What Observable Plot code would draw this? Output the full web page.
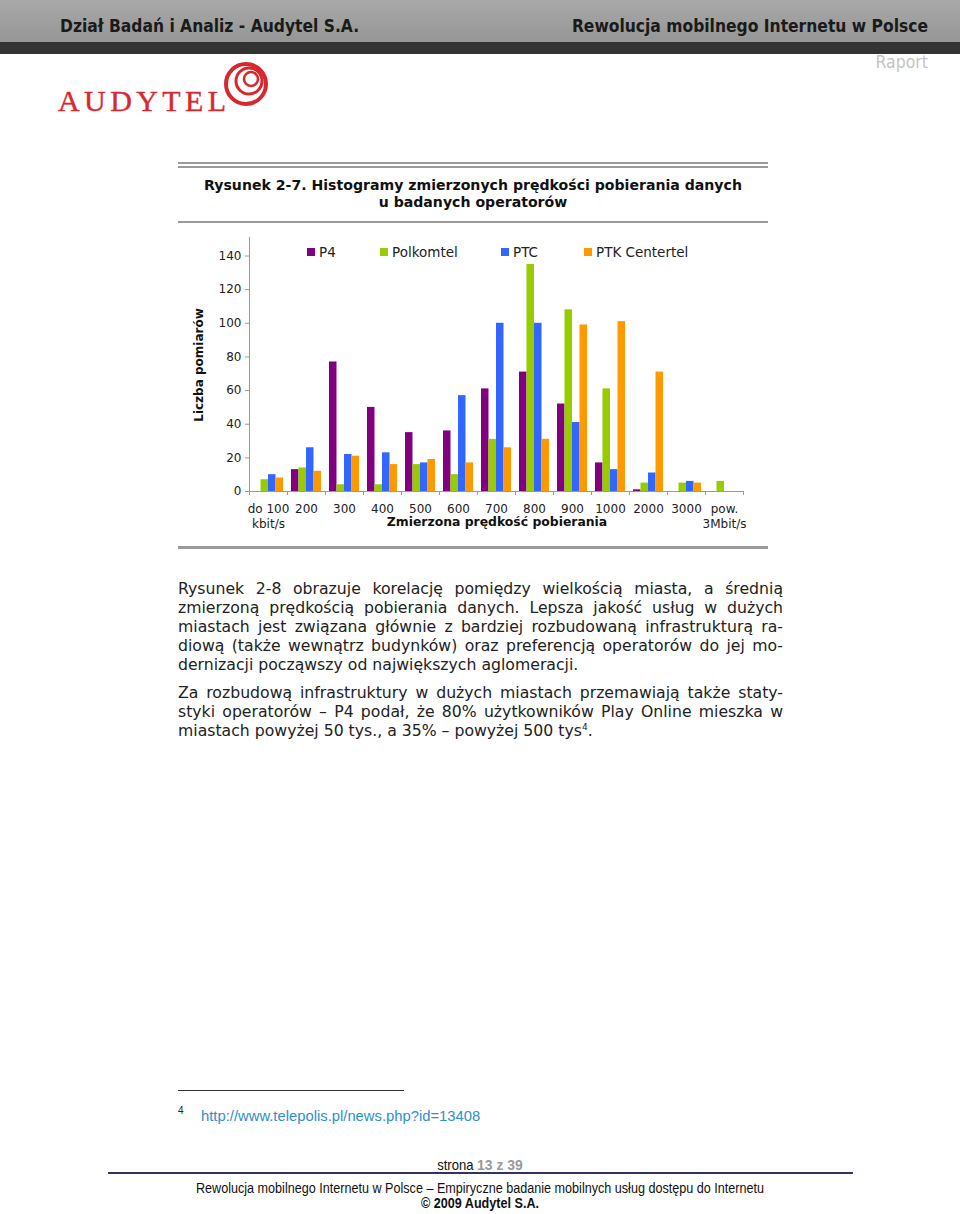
<!DOCTYPE html>
<html>
<head>
<meta charset="utf-8">
<script src="https://cdn.jsdelivr.net/npm/d3@7"></script>
<script src="https://cdn.jsdelivr.net/npm/@observablehq/plot@0.6"></script>
<style>
  html, body { margin: 0; padding: 0; background: #fff; }
  #page { position: relative; width: 960px; height: 1214px; overflow: hidden; font-family: "DejaVu Sans", Verdana, sans-serif; color: #222; }
  .abs { position: absolute; }
  #hdr1 { left: 0; top: 0; width: 960px; height: 42px; background: linear-gradient(#a8a8a8, #969696); }
  #hdr2 { left: 0; top: 42px; width: 960px; height: 12px; background: #333; }
  .hdrtxt { font-family: "DejaVu Sans Condensed", "DejaVu Sans", sans-serif; font-weight: bold; font-size: 17.3px; color: #1a1a1a; top: 16px; white-space: nowrap; }
  .rule { position: absolute; background: #9a9a9a; }
  .bodyline { position: absolute; left: 178px; width: 605px; font-size: 15.7px; line-height: 19px; color: #222; white-space: nowrap; }
  .just { text-align: justify; text-align-last: justify; }
  .leg { position: absolute; top: 244px; font-size: 13.5px; white-space: nowrap; color: #222; }
  .leg i { display: inline-block; width: 8px; height: 8px; margin-right: 4px; vertical-align: 1px; }
  .foot { font-family: "Liberation Sans", Arial, sans-serif; white-space: nowrap; }
  .narrow { position: absolute; left: 0; width: 960px; text-align: center; font-size: 14px; color: #111; transform: scaleX(0.9); transform-origin: 480px 0; }
</style>
</head>
<body>
<div id="page">
  <div id="hdr1" class="abs"></div>
  <div id="hdr2" class="abs"></div>
  <div class="abs hdrtxt" style="left:60px;">Dział Badań i Analiz - Audytel S.A.</div>
  <div class="abs hdrtxt" style="right:32px;">Rewolucja mobilnego Internetu w Polsce</div>
  <div class="abs hdrtxt" style="right:32px; top:52px; color:#c4c4c4; font-weight:normal; font-size:17.5px;">Raport</div>

  <svg class="abs" style="left:50px; top:56px;" width="240" height="64" viewBox="0 0 240 64">
    <text x="8" y="55" font-family="Liberation Serif, DejaVu Serif, serif" font-size="30" letter-spacing="4.4" fill="#d7282f" stroke="#d7282f" stroke-width="0.4">AUDYTEL</text>
    <circle cx="196" cy="28" r="20" fill="none" stroke="#d7282f" stroke-width="4"/>
    <circle cx="199" cy="25" r="13" fill="none" stroke="#d7282f" stroke-width="3"/>
    <circle cx="201" cy="23" r="7" fill="none" stroke="#d7282f" stroke-width="2.5"/>
  </svg>

  <div class="rule" style="left:178px; top:162px; width:590px; height:2px;"></div>
  <div class="rule" style="left:178px; top:166px; width:590px; height:1.5px;"></div>
  <div class="abs" style="left:178px; width:590px; top:177px; text-align:center; font-weight:bold; font-size:14.1px; line-height:17px; color:#111;">Rysunek 2-7. Histogramy zmierzonych prędkości pobierania danych<br>u badanych operatorów</div>
  <div class="rule" style="left:178px; top:221px; width:590px; height:2px;"></div>

  <div id="chart" class="abs" style="left:170px; top:230px;"></div>
  <div id="legend"></div>
  <div class="abs" style="left:199px; top:365px; width:0; height:0;">
    <div style="position:absolute; transform: translate(-50%,-50%) rotate(-90deg); font-weight:bold; font-size:12px; white-space:nowrap; color:#111;">Liczba pomiarów</div>
  </div>
  <div class="abs" style="left:297px; width:400px; top:514px; text-align:center; font-weight:bold; font-size:12.4px; color:#111; white-space:nowrap;">Zmierzona prędkość pobierania</div>

  <div class="rule" style="left:178px; top:546px; width:590px; height:2.5px;"></div>

  <div class="bodyline just" style="top:579px;">Rysunek 2-8 obrazuje korelację pomiędzy wielkością miasta, a średnią</div>
  <div class="bodyline just" style="top:598px;">zmierzoną prędkością pobierania danych. Lepsza jakość usług w dużych</div>
  <div class="bodyline just" style="top:617px;">miastach jest związana głównie z bardziej rozbudowaną infrastrukturą ra-</div>
  <div class="bodyline just" style="top:636px;">diową (także wewnątrz budynków) oraz preferencją operatorów do jej mo-</div>
  <div class="bodyline" style="top:655px;">dernizacji począwszy od największych aglomeracji.</div>
  <div class="bodyline just" style="top:683px;">Za rozbudową infrastruktury w dużych miastach przemawiają także staty-</div>
  <div class="bodyline just" style="top:702px;">styki operatorów – P4 podał, że 80% użytkowników Play Online mieszka w</div>
  <div class="bodyline" style="top:721px;">miastach powyżej 50 tys., a 35% – powyżej 500 tys<sup style="font-size:9px; vertical-align: 6px; line-height:0;">4</sup>.</div>

  <div class="abs" style="left:178px; top:1090px; width:226px; height:1px; background:#333;"></div>
  <div class="abs foot" style="left:178px; top:1105px; font-size:10px; color:#222;">4</div>
  <div class="abs foot" style="left:201px; top:1108px; font-size:14.8px; color:#2d8fcc;">http://www.telepolis.pl/news.php?id=13408</div>

  <div class="foot narrow" style="top:1156px; font-size:14.5px;">strona <span style="color:#9a9a9a; font-weight:bold; font-size:15.5px;">13 z 39</span></div>
  <div class="abs" style="left:108px; top:1172px; width:745px; height:2px; background:#33335e;"></div>
  <div class="foot narrow" style="top:1180px;">Rewolucja mobilnego Internetu w Polsce – Empiryczne badanie mobilnych usług dostępu do Internetu</div>
  <div class="foot narrow" style="top:1195px; font-weight:bold;">© 2009 Audytel S.A.</div>
</div>
<script>
const categories = ["do 100\nkbit/s", "200", "300", "400", "500", "600", "700", "800", "900", "1000", "2000", "3000", "pow.\n3Mbit/s"];
const operators = ["P4", "Polkomtel", "PTC", "PTK Centertel"];
const colors = ["#800080", "#99cc00", "#3366ff", "#ff9900"];
const p4        = [0, 13, 77, 50, 35, 36, 61, 71, 52, 17, 1, 0, 0];
const polkomtel = [7, 14, 4, 4, 16, 10, 31, 135, 108, 61, 5, 5, 6];
const ptc       = [10, 26, 22, 23, 17, 57, 100, 100, 41, 13, 11, 6, 0];
const ptk       = [8, 12, 21, 16, 19, 17, 26, 31, 99, 101, 71, 5, 0];
const yTicks = [0, 20, 40, 60, 80, 100, 120, 140];

const series = [p4, polkomtel, ptc, ptk];
const data = [];
categories.forEach((c, ci) => {
  operators.forEach((o, oi) => {
    data.push({category: c, ci, operator: o, oi, value: series[oi][ci]});
  });
});

// group layout: 79% of each category band filled by 4 adjacent bars
const groupFill = 0.79, gap = (1 - groupFill) / 2, barW = groupFill / operators.length;

const chart = Plot.plot({
  width: 600,
  height: 310,
  marginLeft: 79,
  marginRight: 27,
  marginTop: 7,
  marginBottom: 49,
  x: {domain: [0, categories.length], axis: null},
  y: {domain: [0, 151], axis: null},
  color: {domain: operators, range: colors},
  style: {fontFamily: "DejaVu Sans, Verdana, sans-serif", fontSize: "12px", color: "#222", background: "transparent", overflow: "visible"},
  marks: [
    Plot.rect(data, {
      x1: d => d.ci + gap + d.oi * barW,
      x2: d => d.ci + gap + (d.oi + 1) * barW,
      y1: 0,
      y2: "value",
      fill: "operator"
    }),
    Plot.ruleY([0], {stroke: "#9a9a9a"}),
    Plot.ruleX([0], {stroke: "#9a9a9a"}),
    Plot.axisY({ticks: yTicks, tickSize: 4, tickPadding: 4, label: null, stroke: "#9a9a9a", fill: "#222", fontSize: 12}),
    Plot.axisX({ticks: d3.range(categories.length + 1), tickSize: 4, tickFormat: () => "", label: null, stroke: "#9a9a9a"}),
    Plot.axisX({ticks: d3.range(categories.length).map(i => i + 0.5), tickSize: 0, tickPadding: 11, tickFormat: v => categories[Math.floor(v)], label: null, lineHeight: 1.25, fill: "#222", fontSize: 12})
  ]
});
document.getElementById("chart").appendChild(chart);

// legend (HTML)
const legendLeft = [307, 380, 501, 584];
const legend = document.getElementById("legend");
operators.forEach((o, i) => {
  const el = document.createElement("div");
  el.className = "leg";
  el.style.left = legendLeft[i] + "px";
  el.innerHTML = `<i style="background:${colors[i]}"></i>${o}`;
  legend.appendChild(el);
});
</script>
</body>
</html>
